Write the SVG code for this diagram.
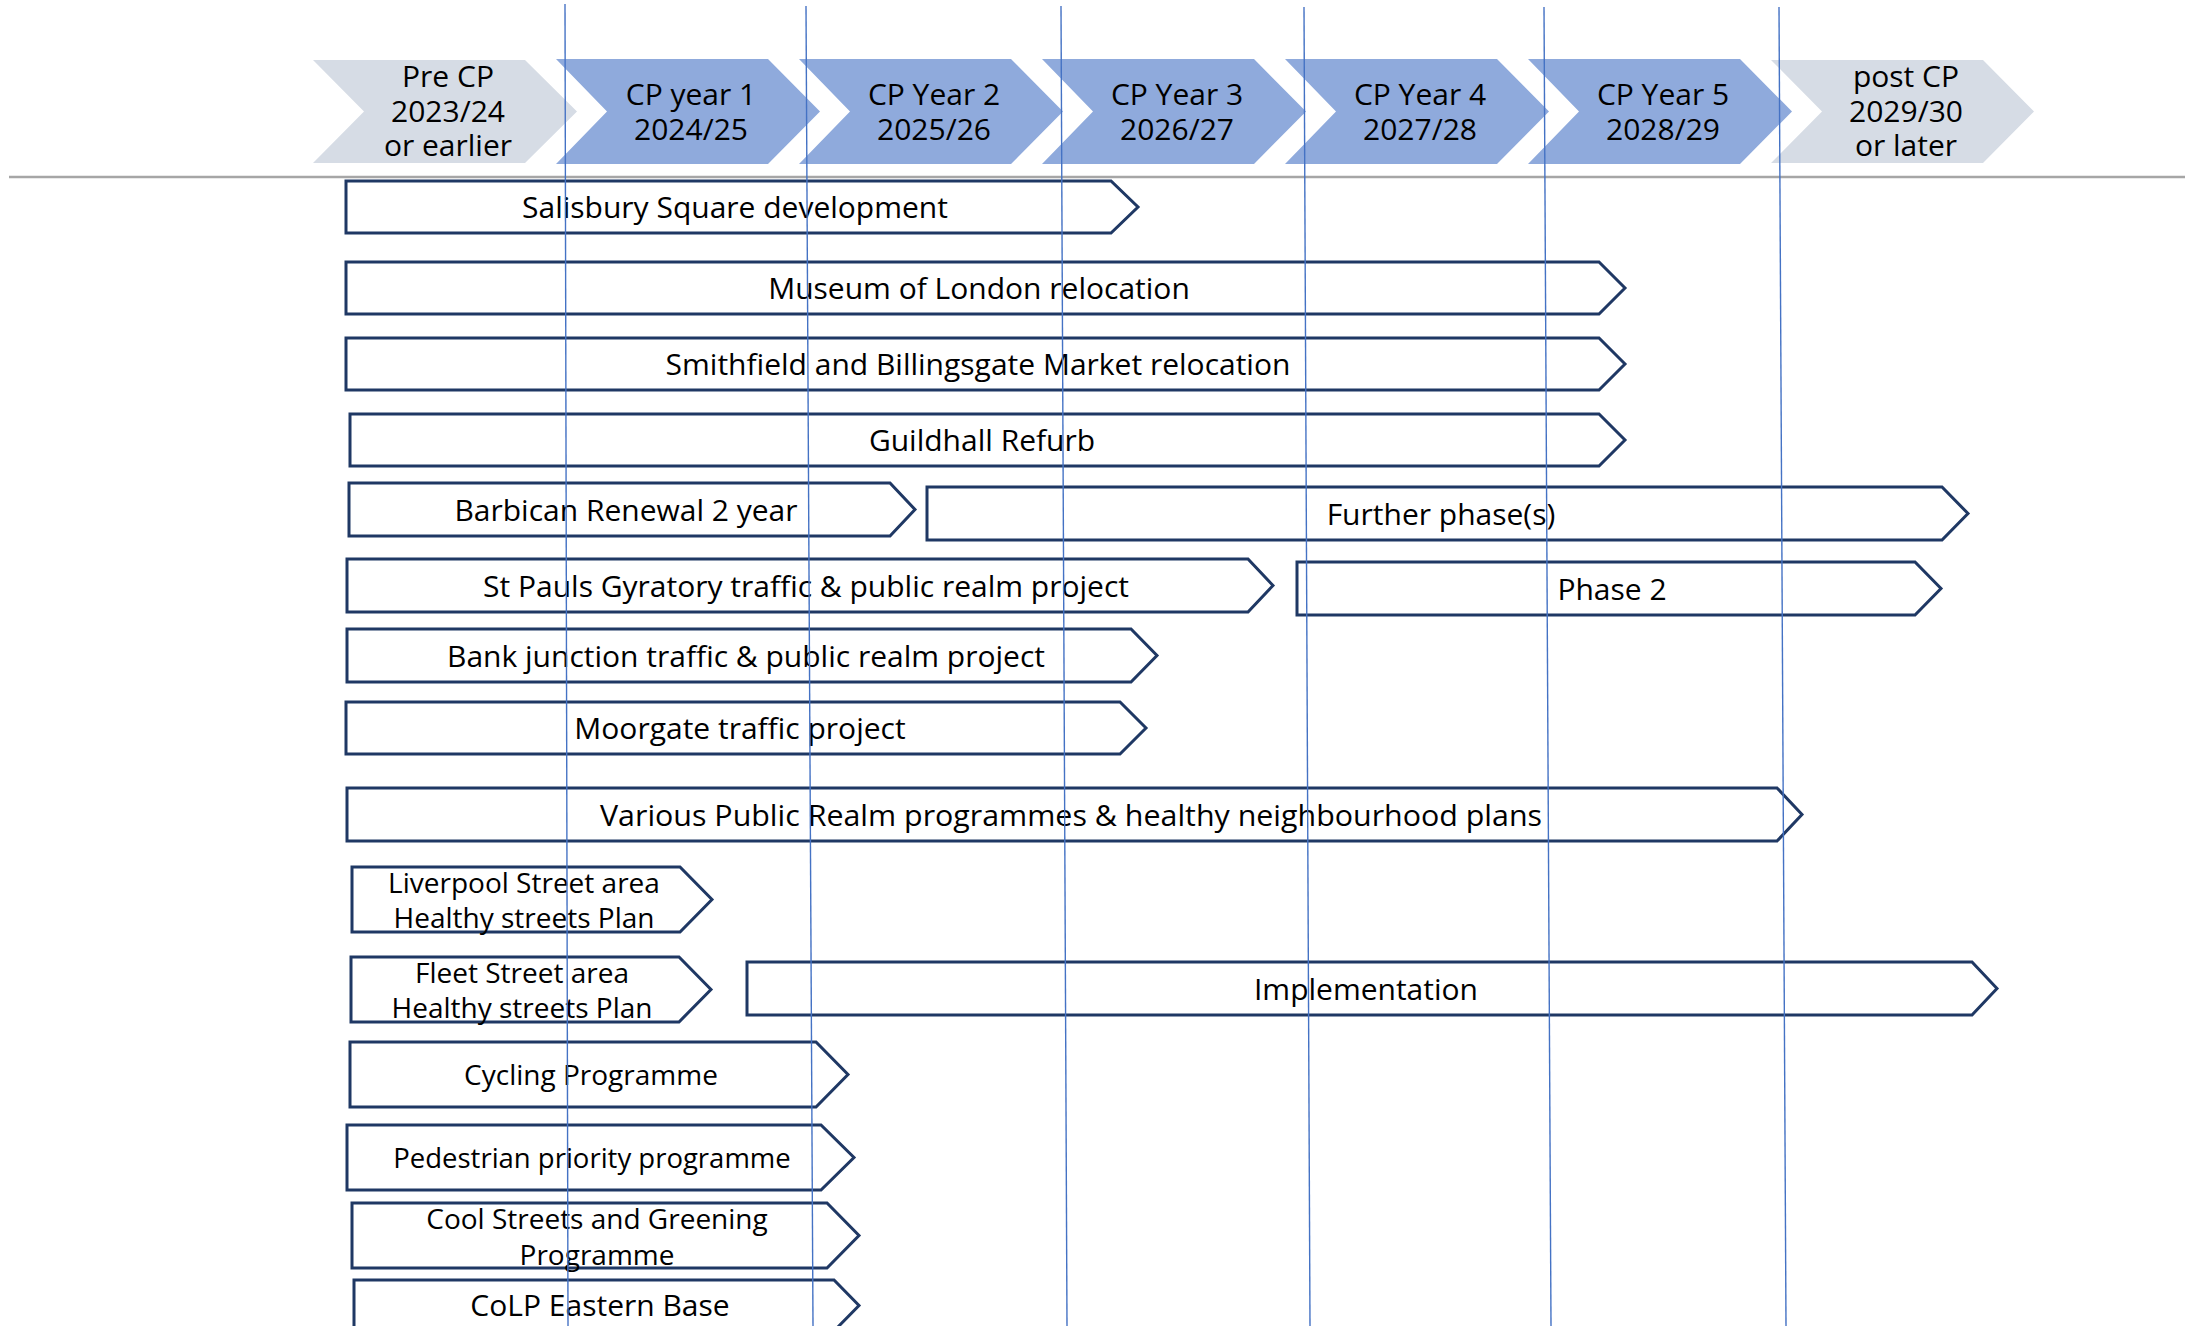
<svg xmlns="http://www.w3.org/2000/svg" width="2190" height="1326" viewBox="0 0 2190 1326">
<style>
.bg{fill:#ffffff}
.pre{fill:#D6DCE5}
.cp{fill:#8FAADC}
.box{fill:#ffffff;stroke:#1F3864;stroke-width:3;stroke-linejoin:miter}
.hd{font-family:"Open Sans","Noto Sans","Liberation Sans",sans-serif;font-size:30px;text-anchor:middle;fill:#000000}
.lbl{font-family:"Open Sans","Noto Sans","Liberation Sans",sans-serif;font-size:30px;text-anchor:middle;fill:#000000}
.lbl2{font-family:"Open Sans","Noto Sans","Liberation Sans",sans-serif;font-size:28px;text-anchor:middle;fill:#000000}
.grid{stroke:#4472C4;stroke-width:1.4;fill:none}
.rule{stroke:#A6A6A6;stroke-width:2.5;fill:none}
</style>
<rect class="bg" x="0" y="0" width="2190" height="1326"/>

<g id="header">
  <g id="h-pre"><polygon class="pre" points="313,60 525,60 577,111.5 525,163 313,163 364,111.5"/>
    <text class="hd" x="448" y="87">Pre CP</text><text class="hd" x="448" y="121.5">2023/24</text><text class="hd" x="448" y="156">or earlier</text></g>
  <g id="h-y1"><polygon class="cp" points="556,59 768,59 820,111.5 768,164 556,164 607,111.5"/>
    <text class="hd" x="691" y="105">CP year 1</text><text class="hd" x="691" y="139.5">2024/25</text></g>
  <g id="h-y2"><polygon class="cp" points="799,59 1011,59 1063,111.5 1011,164 799,164 850,111.5"/>
    <text class="hd" x="934" y="105">CP Year 2</text><text class="hd" x="934" y="139.5">2025/26</text></g>
  <g id="h-y3"><polygon class="cp" points="1042,59 1254,59 1306,111.5 1254,164 1042,164 1093,111.5"/>
    <text class="hd" x="1177" y="105">CP Year 3</text><text class="hd" x="1177" y="139.5">2026/27</text></g>
  <g id="h-y4"><polygon class="cp" points="1285,59 1497,59 1549,111.5 1497,164 1285,164 1336,111.5"/>
    <text class="hd" x="1420" y="105">CP Year 4</text><text class="hd" x="1420" y="139.5">2027/28</text></g>
  <g id="h-y5"><polygon class="cp" points="1528,59 1740,59 1792,111.5 1740,164 1528,164 1579,111.5"/>
    <text class="hd" x="1663" y="105">CP Year 5</text><text class="hd" x="1663" y="139.5">2028/29</text></g>
  <g id="h-post"><polygon class="pre" points="1771,60 1983,60 2034,111.5 1983,163 1771,163 1822,111.5"/>
    <text class="hd" x="1906" y="87">post CP</text><text class="hd" x="1906" y="121.5">2029/30</text><text class="hd" x="1906" y="156">or later</text></g>
</g>

<line class="rule" x1="9" y1="177" x2="2185" y2="177"/>

<g id="n-salisbury"><polygon class="box" points="346,181 1111,181 1138,207 1111,233 346,233"/>
  <text class="lbl" x="735" y="218">Salisbury Square development</text></g>
<g id="n-museum"><polygon class="box" points="346,262 1599,262 1625,288 1599,314 346,314"/>
  <text class="lbl" x="979" y="299">Museum of London relocation</text></g>
<g id="n-markets"><polygon class="box" points="346,338 1599,338 1625,364 1599,390 346,390"/>
  <text class="lbl" x="978" y="375">Smithfield and Billingsgate Market relocation</text></g>
<g id="n-guildhall"><polygon class="box" points="350,414 1599,414 1625,440 1599,466 350,466"/>
  <text class="lbl" x="982" y="451">Guildhall Refurb</text></g>
<g id="n-barbican"><polygon class="box" points="349,483 890,483 915,509.5 890,536 349,536"/>
  <text class="lbl" x="626" y="520.5">Barbican Renewal 2 year</text></g>
<g id="n-further"><polygon class="box" points="927,487 1942,487 1968,513.5 1942,540 927,540"/>
  <text class="lbl" x="1441" y="524.5">Further phase(s)</text></g>
<g id="n-stpauls"><polygon class="box" points="347,559 1248,559 1273,585.5 1248,612 347,612"/>
  <text class="lbl" x="806" y="596.5">St Pauls Gyratory traffic &amp; public realm project</text></g>
<g id="n-phase2"><polygon class="box" points="1297,562 1915,562 1941,588.5 1915,615 1297,615"/>
  <text class="lbl" x="1612" y="599.5">Phase 2</text></g>
<g id="n-bank"><polygon class="box" points="347,629 1131,629 1157,655.5 1131,682 347,682"/>
  <text class="lbl" x="746" y="666.5">Bank junction traffic &amp; public realm project</text></g>
<g id="n-moorgate"><polygon class="box" points="346,702 1120,702 1146,728 1120,754 346,754"/>
  <text class="lbl" x="740" y="739">Moorgate traffic project</text></g>
<g id="n-various"><polygon class="box" points="347,788 1777,788 1802,814.5 1777,841 347,841"/>
  <text class="lbl" x="1071" y="825.5" textLength="942" lengthAdjust="spacingAndGlyphs">Various Public Realm programmes &amp; healthy neighbourhood plans</text></g>
<g id="n-liverpool"><polygon class="box" points="352,867 680,867 712,899.5 680,932 352,932"/>
  <text class="lbl2" x="524" y="893">Liverpool Street area</text><text class="lbl2" x="524" y="928">Healthy streets Plan</text></g>
<g id="n-fleet"><polygon class="box" points="351,957 679,957 711,989.5 679,1022 351,1022"/>
  <text class="lbl2" x="522" y="983">Fleet Street area</text><text class="lbl2" x="522" y="1018">Healthy streets Plan</text></g>
<g id="n-implementation"><polygon class="box" points="747,962 1972,962 1997,988.5 1972,1015 747,1015"/>
  <text class="lbl" x="1366" y="999.5">Implementation</text></g>
<g id="n-cycling"><polygon class="box" points="350,1042 816,1042 848,1074.5 816,1107 350,1107"/>
  <text class="lbl2" x="591" y="1085">Cycling Programme</text></g>
<g id="n-pedestrian"><polygon class="box" points="347,1125 821,1125 854,1157.5 821,1190 347,1190"/>
  <text class="lbl2" x="592" y="1168" style="font-size:27.5px">Pedestrian priority programme</text></g>
<g id="n-cool"><polygon class="box" points="352,1203 827,1203 859,1235.5 827,1268 352,1268"/>
  <text class="lbl2" x="597" y="1229">Cool Streets and Greening</text><text class="lbl2" x="597" y="1265">Programme</text></g>
<g id="n-colp"><polygon class="box" points="354,1280 834,1280 859,1305.5 834,1331 354,1331"/>
  <text class="lbl" x="600" y="1316">CoLP Eastern Base</text></g>

<g id="connectors">
  <line class="grid" x1="565" y1="4" x2="568" y2="1326"/>
  <line class="grid" x1="806" y1="6" x2="813" y2="1326"/>
  <line class="grid" x1="1061" y1="6" x2="1067" y2="1326"/>
  <line class="grid" x1="1304" y1="7" x2="1310" y2="1326"/>
  <line class="grid" x1="1544" y1="7" x2="1551" y2="1326"/>
  <line class="grid" x1="1779" y1="7" x2="1786" y2="1326"/>
</g>
</svg>
